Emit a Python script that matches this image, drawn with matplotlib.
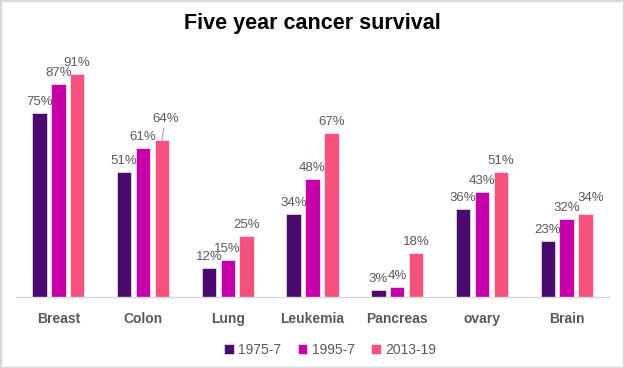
import matplotlib
matplotlib.use("Agg")
import matplotlib.pyplot as plt
from matplotlib.patches import Rectangle
from matplotlib import font_manager
import numpy as np

categories = ["Breast", "Colon", "Lung", "Leukemia", "Pancreas", "ovary", "Brain"]
series_names = ["1975-7", "1995-7", "2013-19"]
v1975 = [75, 51, 12, 34, 3, 36, 23]
v1995 = [87, 61, 15, 48, 4, 43, 32]
v2013 = [91, 64, 25, 67, 18, 51, 34]
colors = ["#4A0A6E", "#C600A8", "#F5527E"]

names = {f.name for f in font_manager.fontManager.ttflist}
narrow = "Liberation Sans Narrow" if "Liberation Sans Narrow" in names else "Liberation Sans"

fig = plt.figure(figsize=(6.24, 3.68), dpi=100)
ax = fig.add_axes([16/624, 1-297/368, 593/624, (297-52)/368])

x = np.arange(len(categories))
step = 0.222
width = 0.17
gray = "#595959"
for i, (vals, c, n) in enumerate(zip([v1975, v1995, v2013], colors, series_names)):
    pos = x + (i-1)*step
    ax.bar(pos, vals, width=width, color=c, label=n, edgecolor="#ffffff", linewidth=0.4)
    for j, (p, v) in enumerate(zip(pos, vals)):
        if categories[j] == "Colon" and i == 2:
            ax.annotate(f"{v}%", xy=(p, v), xytext=(p + 0.04, v + 6.0), ha="center", va="bottom",
                        fontsize=9.5, color=gray, family="Liberation Sans",
                        arrowprops=dict(arrowstyle="-", color="#A6A6A6", lw=0.8, shrinkA=0, shrinkB=0))
        else:
            extra = 2.0 if (categories[j] == "Brain" and i == 2) else 0.0
            ax.text(p + (0.06 if extra else 0), v + 2.0 + extra, f"{v}%", ha="center", va="bottom",
                    fontsize=9.5, color=gray, family="Liberation Sans")

ax.set_xlim(-0.5, len(categories)-0.5)
ax.set_ylim(0, 100)
ax.set_xticks(x)
ax.set_xticklabels(categories, fontsize=10, fontweight="bold", color=gray, family=narrow)
ax.tick_params(axis="x", length=0, pad=11)
ax.set_yticks([])
for s in ["top", "right", "left"]:
    ax.spines[s].set_visible(False)
ax.spines["bottom"].set_color("#D9D9D9")
ax.spines["bottom"].set_linewidth(1.0)

fig.text(0.5, 1-23/368, "Five year cancer survival", ha="center", va="center",
         fontsize=15.5, fontweight="bold", family="Liberation Sans", color="black")

leg = fig.legend(loc="center", bbox_to_anchor=(330/624, 1-350/368), ncol=3, frameon=False,
                 handlelength=0.7, handleheight=0.7, handletextpad=0.3, columnspacing=1.2,
                 prop={"family": narrow, "size": 10})
for t in leg.get_texts():
    t.set_color(gray)

fig.patches.append(Rectangle((0, 0), 1, 1, transform=fig.transFigure, fill=False,
                             edgecolor="#D9D9D9", linewidth=2.5))
fig.savefig("out.png", dpi=100)
